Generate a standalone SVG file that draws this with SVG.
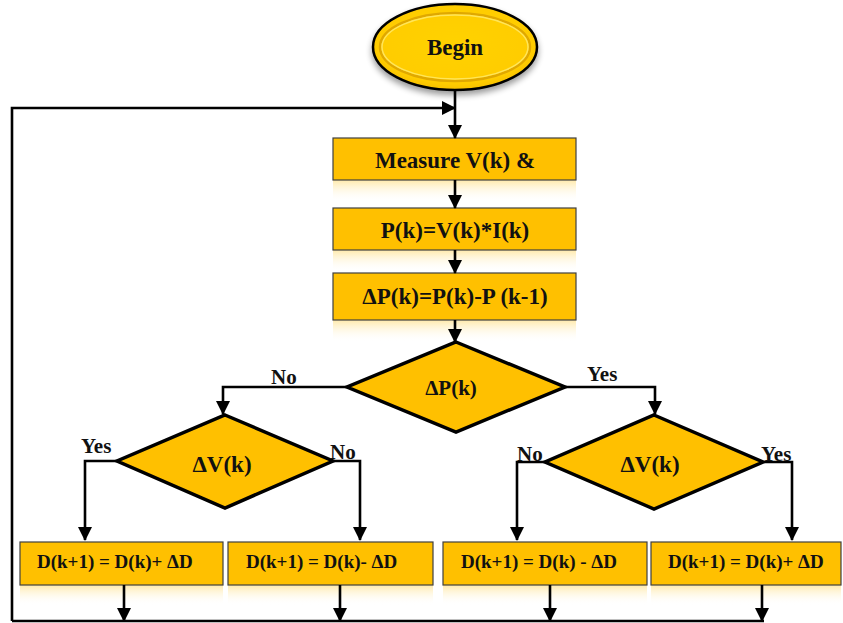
<svg xmlns="http://www.w3.org/2000/svg" width="843" height="623" viewBox="0 0 843 623">
<defs>
<linearGradient id="refl" x1="0" y1="0" x2="0" y2="1">
<stop offset="0" stop-color="#FFD866" stop-opacity="0.55"/>
<stop offset="1" stop-color="#FFFFFF" stop-opacity="0"/>
</linearGradient>
<radialGradient id="gold" cx="0.5" cy="0.45" r="0.6">
<stop offset="0" stop-color="#FFD200"/>
<stop offset="0.8" stop-color="#FFCC00"/>
<stop offset="1" stop-color="#F2B800"/>
</radialGradient>
<filter id="sh" x="-20%" y="-20%" width="140%" height="150%">
<feGaussianBlur in="SourceAlpha" stdDeviation="3"/>
<feOffset dx="0" dy="4"/>
<feComponentTransfer><feFuncA type="linear" slope="0.4"/></feComponentTransfer>
<feMerge><feMergeNode/><feMergeNode in="SourceGraphic"/></feMerge>
</filter>
<marker id="ah" markerWidth="14" markerHeight="14" viewBox="0 0 14 14" refX="13" refY="7" orient="auto" markerUnits="userSpaceOnUse">
<path d="M0,0 L14,7 L0,14 Z" fill="#000"/>
</marker>
</defs>
<style>
.box{fill:#FFC000;stroke:#404040;stroke-width:1.2}
.dia{fill:#FFC000;stroke:#000;stroke-width:3.5;stroke-linejoin:miter}
.t{font-family:"Liberation Serif",serif;font-weight:bold;fill:#111}
.big{font-size:23px}
.mid{font-size:21px}
.sm{font-size:19px}
.lbl{font-family:"Liberation Serif",serif;font-weight:bold;font-size:21px;fill:#111}
.c{fill:none;stroke:#000;stroke-width:2.6}
.ca{fill:none;stroke:#000;stroke-width:2.6;marker-end:url(#ah)}
</style>
<rect width="843" height="623" fill="#fff"/>

<g id="begin">
<ellipse cx="455" cy="47" rx="82" ry="43" fill="url(#gold)" stroke="#000" stroke-width="2.5" filter="url(#sh)"/>
<ellipse cx="455" cy="47" rx="75" ry="34" fill="none" stroke="#E0A800" stroke-width="2.5"/>
<ellipse cx="455" cy="47" rx="73" ry="32" fill="none" stroke="#FFE55A" stroke-width="1.5"/>
<text class="t big" x="455" y="55" text-anchor="middle">Begin</text>
</g>

<g id="measure">
<rect x="333" y="180" width="243" height="22" fill="url(#refl)"/>
<rect class="box" x="333" y="138" width="243" height="42"/>
<text class="t big" x="455" y="168" text-anchor="middle">Measure V(k) &amp;</text>
</g>

<g id="power">
<rect x="333" y="250" width="243" height="22" fill="url(#refl)"/>
<rect class="box" x="333" y="208" width="243" height="42"/>
<text class="t big" x="455" y="238" text-anchor="middle">P(k)=V(k)*I(k)</text>
</g>

<g id="deltaP">
<rect x="333" y="320" width="243" height="22" fill="url(#refl)"/>
<rect class="box" x="333" y="273" width="243" height="47"/>
<text class="t big" x="455" y="304" text-anchor="middle">ΔP(k)=P(k)-P (k-1)</text>
</g>

<g id="decP">
<polygon class="dia" points="456,342 565,387 456,432 347,387"/>
<text class="t mid" x="451" y="395" text-anchor="middle">ΔP(k)</text>
</g>

<g id="decVleft">
<polygon class="dia" points="225,415 333,461 225,508 117,461"/>
<text class="t big" x="222" y="472" text-anchor="middle">ΔV(k)</text>
</g>

<g id="decVright">
<polygon class="dia" points="654,415 763,462 654,509 545,462"/>
<text class="t big" x="650" y="472" text-anchor="middle">ΔV(k)</text>
</g>

<g id="box1">
<rect x="20" y="585" width="203" height="20" fill="url(#refl)"/>
<rect class="box" x="20" y="542" width="203" height="43"/>
<text class="t sm" x="37" y="568">D(k+1) = D(k)+ ΔD</text>
</g>
<g id="box2">
<rect x="228" y="585" width="205" height="20" fill="url(#refl)"/>
<rect class="box" x="228" y="542" width="205" height="43"/>
<text class="t sm" x="246" y="568">D(k+1) = D(k)- ΔD</text>
</g>
<g id="box3">
<rect x="443" y="585" width="204" height="20" fill="url(#refl)"/>
<rect class="box" x="443" y="542" width="204" height="43"/>
<text class="t sm" x="461" y="568">D(k+1) = D(k) - ΔD</text>
</g>
<g id="box4">
<rect x="651" y="585" width="190" height="20" fill="url(#refl)"/>
<rect class="box" x="651" y="542" width="190" height="43"/>
<text class="t sm" x="668" y="568">D(k+1) = D(k)+ ΔD</text>
</g>

<g id="connectors">
<path class="ca" d="M455,90 V138"/>
<path class="ca" d="M12,621 V108 H455"/>
<path class="ca" d="M455,180 V208"/>
<path class="ca" d="M455,250 V273"/>
<path class="ca" d="M455,320 V342"/>
<path class="ca" d="M347,387 H223 V414"/>
<path class="ca" d="M565,387 H655 V414"/>
<path class="ca" d="M117,461 H85 V540"/>
<path class="ca" d="M333,461 H360 V540"/>
<path class="ca" d="M545,462 H517 V540"/>
<path class="ca" d="M763,462 H792 V540"/>
<path class="c" d="M12,621 H764"/>
<path class="ca" d="M124,585 V621"/>
<path class="ca" d="M340,585 V621"/>
<path class="ca" d="M550,585 V621"/>
<path class="ca" d="M762,585 V621"/>
</g>

<g id="labels">
<text class="lbl" x="271" y="384">No</text>
<text class="lbl" x="587" y="381">Yes</text>
<text class="lbl" x="81" y="453">Yes</text>
<text class="lbl" x="330" y="459">No</text>
<text class="lbl" x="517" y="461">No</text>
<text class="lbl" x="761" y="461">Yes</text>
</g>
</svg>
